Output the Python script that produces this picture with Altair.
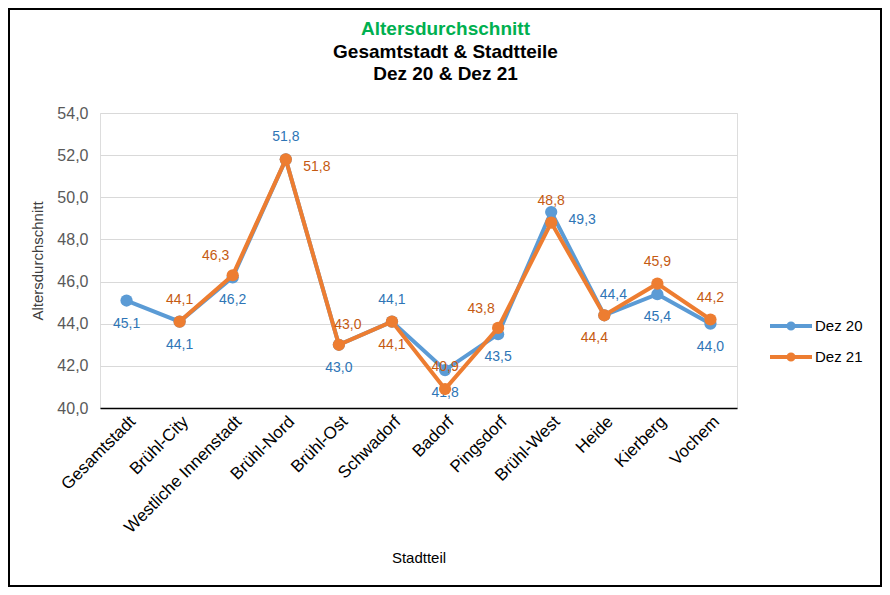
import altair as alt
import pandas as pd

categories = ["Gesamtstadt", "Brühl-City", "Westliche Innenstadt", "Brühl-Nord", "Brühl-Ost",
              "Schwadorf", "Badorf", "Pingsdorf", "Brühl-West", "Heide", "Kierberg", "Vochem"]
dez20 = [45.1, 44.1, 46.2, 51.8, 43.0, 44.1, 41.8, 43.5, 49.3, 44.4, 45.4, 44.0]
dez21 = [None, 44.1, 46.3, 51.8, 43.0, 44.1, 40.9, 43.8, 48.8, 44.4, 45.9, 44.2]
series_names = ["Dez 20", "Dez 21"]
# data label placement (as in the original chart)
place20 = ["below", "below", "below", "above", "below", "above", "below", "below",
           "right", "aboveright", "below", "below"]
place21 = [None, "above", "aboveleft", "right", "aboveright", "below", "above", "aboveleft",
           "above", "belowleft", "above", "above"]

offsets = {
    "above": (0, -22),
    "below": (0, 23),
    "right": (31, 8),
    "aboveleft": (-17, -19),
    "aboveright": (9, -20),
    "belowleft": (-10, 23),
}
line_colors = ["#5B9BD5", "#ED7D31"]
label_colors = ["#2E75B6", "#C55A11"]

rows = []
for s, vals, pl in [(series_names[0], dez20, place20), (series_names[1], dez21, place21)]:
    for c, v, p in zip(categories, vals, pl):
        if v is not None:
            rows.append({"Stadtteil": c, "Serie": s, "Wert": v, "pos": p})
df = pd.DataFrame(rows)

FONT = "Liberation Sans"

x_enc = alt.X("Stadtteil:N", sort=categories, scale=alt.Scale(domain=categories),
              axis=alt.Axis(title="Stadtteil", labelAngle=-45, labelFontSize=17, labelColor="#000000",
                            titleFontSize=15, titleFontWeight="normal", titleColor="#000000",
                            titlePadding=15, labelPadding=5, ticks=False, grid=False,
                            domainColor="#000000", domainWidth=1.3, labelFont=FONT, titleFont=FONT))
y_enc = alt.Y("Wert:Q", scale=alt.Scale(domain=[40, 54], nice=False, zero=False),
              axis=alt.Axis(title="Altersdurchschnitt", values=list(range(40, 55, 2)),
                            labelExpr="replace(format(datum.value, '.1f'), '.', ',')",
                            labelFontSize=16, labelColor="#595959", titleFontSize=15,
                            titleFontWeight="normal", titleColor="#404040", titlePadding=11,
                            labelPadding=12, ticks=False, domain=False, grid=True,
                            gridColor="#D9D9D9", labelFont=FONT, titleFont=FONT))

base = alt.Chart(df)

border = alt.Chart(pd.DataFrame({"a": [0]})).mark_rect(
    fill="transparent", stroke="#000000", strokeWidth=2
).encode(x=alt.value(-91), x2=alt.value(781), y=alt.value(-104), y2=alt.value(473))

legend_path = "M-1.4,0L1.4,0M-0.17,0A0.17,0.17,0,1,0,0.17,0A0.17,0.17,0,1,0,-0.17,0Z"

layers = [border]
for i, s in enumerate(series_names):
    line = base.transform_filter(alt.datum.Serie == s).mark_line(
        strokeWidth=4, point=alt.OverlayMarkDef(filled=True, size=150, opacity=1)
    ).encode(
        x=x_enc, y=y_enc,
        color=alt.Color("Serie:N", scale=alt.Scale(domain=series_names, range=line_colors),
                        legend=alt.Legend(title=None, orient="none", legendX=674, legendY=196,
                                          labelFontSize=15, labelColor="#000000", labelFont=FONT,
                                          symbolType=legend_path, symbolSize=900,
                                          symbolStrokeWidth=4, rowPadding=3, labelOffset=7))
    )
    layers.append(line)
    for p, (dx, dy) in offsets.items():
        txt = base.transform_filter(
            (alt.datum.Serie == s) & (alt.datum.pos == p)
        ).transform_calculate(
            lab="replace(format(datum.Wert, '.1f'), '.', ',')"
        ).mark_text(dx=dx, dy=dy, fontSize=14, font=FONT, color=label_colors[i]).encode(
            x=x_enc, y=y_enc, text="lab:N"
        )
        layers.append(txt)

chart = alt.layer(*layers).properties(
    width=637, height=295,
    autosize=alt.AutoSizeParams(type="none"),
    padding={"left": 92, "top": 105, "right": 145, "bottom": 179},
    title=alt.TitleParams(
        text="Altersdurchschnitt",
        subtitle=["Gesamtstadt & Stadtteile", "Dez 20 & Dez 21"],
        color="#00B050", subtitleColor="#000000",
        fontSize=19, subtitleFontSize=19, fontWeight="bold", subtitleFontWeight="bold",
        font=FONT, subtitleFont=FONT, anchor="middle", dx=27, offset=-76,
        subtitlePadding=4, subtitleLineHeight=22,
    ),
).configure_view(strokeWidth=0).configure(background="#FFFFFF")

chart.save("out.html", embed_options={"renderer": "svg", "actions": False})
